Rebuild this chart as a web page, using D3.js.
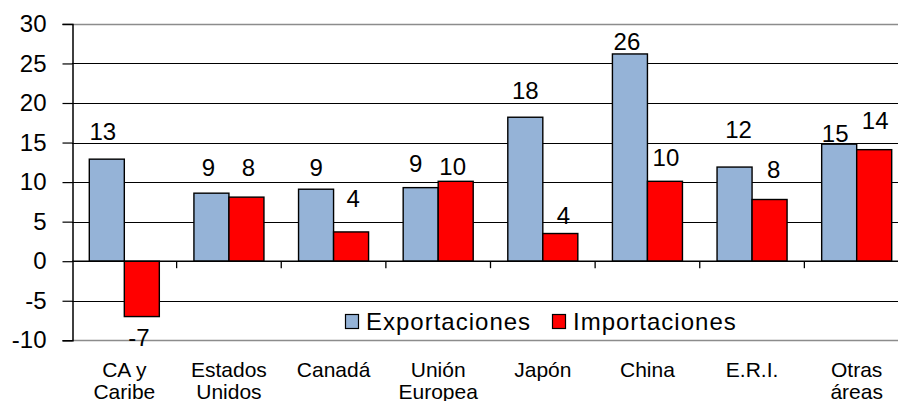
<!DOCTYPE html>
<html>
<head>
<meta charset="utf-8">
<script src="https://cdn.jsdelivr.net/npm/d3@7/dist/d3.min.js"></script>
<style>
  html, body { margin: 0; padding: 0; background: #fff; }
  svg { display: block; font-family: "Liberation Sans", Arial, sans-serif; }
</style>
</head>
<body>
<svg id="chart" width="898" height="401"></svg>
<script>
// ---- data ----
const categories = ["CA y Caribe", "Estados Unidos", "Canadá", "Unión Europea", "Japón", "China", "E.R.I.", "Otras áreas"];
const categoryLines = [["CA y", "Caribe"], ["Estados", "Unidos"], ["Canadá"], ["Unión", "Europea"], ["Japón"], ["China"], ["E.R.I."], ["Otras", "áreas"]];
const seriesNames = ["Exportaciones", "Importaciones"];
const exportaciones = [12.9, 8.6, 9.1, 9.3, 18.2, 26.2, 11.9, 14.8];
const importaciones = [-7.0, 8.1, 3.7, 10.1, 3.5, 10.1, 7.8, 14.1];
const exportLabels = ["13", "9", "9", "9", "18", "26", "12", "15"];
const importLabels = ["-7", "8", "4", "10", "4", "10", "8", "14"];
const yTicks = [-10, -5, 0, 5, 10, 15, 20, 25, 30];

// ---- layout (label placement as in the original, px gap from bar end) ----
const exportLabelGap = [19, 17.5, 13.5, 16, 18.5, 4, 29, 2.5];
const exportLabelDx = [-4, -3, 0, -5, 0, -3, 4, -4];
const importLabelGap = [29, 21, 25, 6.5, 10, 15, 22, 20.5];
const importLabelDx = [-3, 2, 2, -3, 3, 1, 4, 1];

const colors = { "Exportaciones": "#95B3D7", "Importaciones": "#FF0000" };
const svg = d3.select("#chart");
const plotLeft = 72, plotRight = 909, plotTop = 23.9, plotBottom = 340.3;

const x0 = d3.scaleBand().domain(categories).range([plotLeft, plotRight]).paddingInner(0).paddingOuter(0);
const groupPad = 17.3;
const x1 = d3.scaleBand().domain(seriesNames).range([groupPad, x0.bandwidth() - groupPad]).padding(0);
const y = d3.scaleLinear().domain([-10, 30]).range([plotBottom, plotTop]);

// gridlines
svg.append("g").selectAll("line").data(yTicks).join("line")
  .attr("x1", plotLeft).attr("x2", 898)
  .attr("y1", d => Math.round(y(d)) + 0.5).attr("y2", d => Math.round(y(d)) + 0.5)
  .attr("stroke", d => (d === 30 || d === -10) ? "#8c8c8c" : "#000")
  .attr("stroke-width", d => (d === 30 || d === -10) ? 1.6 : 1);

// y axis
const yAxis = d3.axisLeft(y).tickValues(yTicks).tickSize(10).tickPadding(16).tickFormat(d => String(d));
const gy = svg.append("g").attr("transform", `translate(${plotLeft + 0.5},0)`).call(yAxis);
gy.select(".domain").attr("stroke", "#000").attr("stroke-width", 1.5);
gy.selectAll(".tick line").attr("stroke", "#000").attr("stroke-width", 1.2);
gy.selectAll(".tick text").attr("font-size", 24).attr("fill", "#000")
  .attr("font-family", "'Liberation Sans', Arial, sans-serif");

// data table
const rows = categories.map((c, i) => ({
  cat: c,
  values: [
    { s: "Exportaciones", v: exportaciones[i], label: exportLabels[i], gap: exportLabelGap[i], dx: exportLabelDx[i] },
    { s: "Importaciones", v: importaciones[i], label: importLabels[i], gap: importLabelGap[i], dx: importLabelDx[i] }
  ]
}));

// bars
const groups = svg.append("g").selectAll("g").data(rows).join("g")
  .attr("transform", d => `translate(${x0(d.cat)},0)`);
groups.selectAll("rect").data(d => d.values).join("rect")
  .attr("x", d => x1(d.s))
  .attr("width", x1.bandwidth())
  .attr("y", d => y(Math.max(0, d.v)))
  .attr("height", d => Math.abs(y(d.v) - y(0)))
  .attr("fill", d => colors[d.s])
  .attr("stroke", "#000").attr("stroke-width", 1.4);

// zero axis and category ticks
svg.append("line").attr("x1", plotLeft).attr("x2", 898)
  .attr("y1", y(0)).attr("y2", y(0)).attr("stroke", "#000").attr("stroke-width", 1.5);
svg.append("g").selectAll("line").data(categories.slice(1)).join("line")
  .attr("x1", d => x0(d)).attr("x2", d => x0(d))
  .attr("y1", y(0)).attr("y2", y(0) + 7)
  .attr("stroke", "#000").attr("stroke-width", 1.3);

// data labels
groups.selectAll("text").data(d => d.values).join("text")
  .attr("x", d => x1(d.s) + x1.bandwidth() / 2 + d.dx)
  .attr("y", d => d.v >= 0 ? y(d.v) - d.gap : y(d.v) + d.gap)
  .attr("text-anchor", "middle")
  .attr("font-size", 24).attr("fill", "#000")
  .text(d => d.label);

// category labels
const catG = svg.append("g").selectAll("text").data(categories).join("text")
  .attr("x", d => x0(d) + x0.bandwidth() / 2)
  .attr("y", 376.7)
  .attr("text-anchor", "middle")
  .attr("font-size", 21).attr("fill", "#000");
catG.each(function(d, i) {
  const t = d3.select(this);
  categoryLines[i].forEach((line, j) => {
    t.append("tspan").attr("x", x0(d) + x0.bandwidth() / 2).attr("dy", j === 0 ? 0 : 22).text(line);
  });
});

// legend
const legendItems = [
  { s: "Exportaciones", x: 345 },
  { s: "Importaciones", x: 552 }
];
const lg = svg.append("g").selectAll("g").data(legendItems).join("g")
  .attr("transform", d => `translate(${d.x},314)`);
lg.append("rect").attr("x", 0.5).attr("y", 0.5).attr("width", 13).attr("height", 14)
  .attr("fill", d => colors[d.s]).attr("stroke", "#000").attr("stroke-width", 1.2);
lg.append("text").attr("x", 21).attr("y", 16)
  .attr("font-size", 24).attr("letter-spacing", 1).attr("fill", "#000")
  .text(d => d.s);
</script>
</body>
</html>
